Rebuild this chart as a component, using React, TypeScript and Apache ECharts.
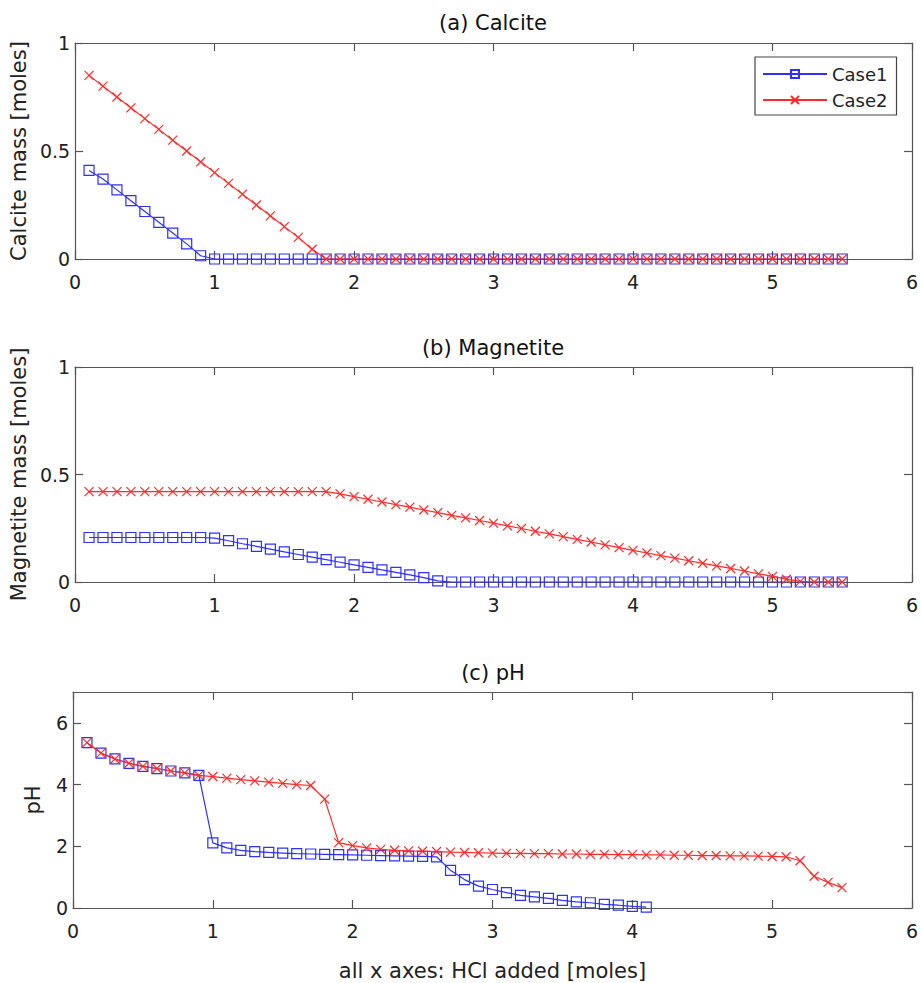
import React, { useEffect, useRef } from "react";
import * as echarts from "echarts";

const xs = [
  0.1, 0.2, 0.3, 0.4, 0.5, 0.6, 0.7, 0.8, 0.9, 1.0,
  1.1, 1.2, 1.3, 1.4, 1.5, 1.6, 1.7, 1.8, 1.9, 2.0,
  2.1, 2.2, 2.3, 2.4, 2.5, 2.6, 2.7, 2.8, 2.9, 3.0,
  3.1, 3.2, 3.3, 3.4, 3.5, 3.6, 3.7, 3.8, 3.9, 4.0,
  4.1, 4.2, 4.3, 4.4, 4.5, 4.6, 4.7, 4.8, 4.9, 5.0,
  5.1, 5.2, 5.3, 5.4, 5.5,
];

const calciteCase1 = [
  0.41, 0.37, 0.32, 0.27, 0.22, 0.17, 0.12, 0.07, 0.015, 0,
  0, 0, 0, 0, 0, 0, 0, 0, 0, 0,
  0, 0, 0, 0, 0, 0, 0, 0, 0, 0,
  0, 0, 0, 0, 0, 0, 0, 0, 0, 0,
  0, 0, 0, 0, 0, 0, 0, 0, 0, 0,
  0, 0, 0, 0, 0,
];
const calciteCase2 = [
  0.85, 0.8, 0.75, 0.7, 0.65, 0.6, 0.55, 0.5, 0.45, 0.4,
  0.35, 0.3, 0.25, 0.2, 0.15, 0.1, 0.045, 0, 0, 0,
  0, 0, 0, 0, 0, 0, 0, 0, 0, 0,
  0, 0, 0, 0, 0, 0, 0, 0, 0, 0,
  0, 0, 0, 0, 0, 0, 0, 0, 0, 0,
  0, 0, 0, 0, 0,
];

const magnetiteCase1 = [
  0.207, 0.207, 0.207, 0.207, 0.207, 0.207, 0.207, 0.207, 0.207, 0.204,
  0.192, 0.178, 0.166, 0.153, 0.14, 0.128, 0.116, 0.104, 0.092, 0.08,
  0.068, 0.056, 0.045, 0.033, 0.02, 0.005, 0, 0, 0, 0,
  0, 0, 0, 0, 0, 0, 0, 0, 0, 0,
  0, 0, 0, 0, 0, 0, 0, 0, 0, 0,
  0, 0, 0, 0, 0,
];
const magnetiteCase2 = [
  0.42, 0.42, 0.42, 0.42, 0.42, 0.42, 0.42, 0.42, 0.42, 0.42,
  0.42, 0.42, 0.42, 0.42, 0.42, 0.42, 0.42, 0.42, 0.41, 0.397,
  0.385, 0.372, 0.36, 0.348, 0.335, 0.323, 0.31, 0.298, 0.286, 0.274,
  0.261, 0.249, 0.236, 0.224, 0.211, 0.198, 0.186, 0.173, 0.16, 0.147,
  0.135, 0.123, 0.111, 0.099, 0.087, 0.075, 0.063, 0.051, 0.038, 0.026,
  0.013, 0.003, 0, 0, 0,
];

const phCase1 = [
  5.36, 5.02, 4.83, 4.69, 4.59, 4.52, 4.44, 4.38, 4.3, 2.11,
  1.95, 1.87, 1.83, 1.8, 1.78, 1.76, 1.75, 1.74, 1.73, 1.72,
  1.71, 1.7, 1.69, 1.68, 1.67, 1.66, 1.22, 0.92, 0.71, 0.6,
  0.5, 0.41, 0.36, 0.31, 0.25, 0.2, 0.17, 0.12, 0.09, 0.05,
  0.03,
];
const phCase2 = [
  5.36, 5.02, 4.83, 4.69, 4.59, 4.52, 4.44, 4.38, 4.3, 4.26,
  4.21, 4.16, 4.12, 4.08, 4.04, 4.0, 3.97, 3.53, 2.12, 2.02,
  1.95, 1.9, 1.87, 1.85, 1.84, 1.83, 1.81, 1.8, 1.79, 1.78,
  1.77, 1.77, 1.76, 1.76, 1.75, 1.75, 1.74, 1.74, 1.73, 1.73,
  1.72, 1.72, 1.71, 1.71, 1.7, 1.7, 1.69, 1.69, 1.68, 1.67,
  1.66, 1.53, 1.03, 0.83, 0.66,
];

const seriesNames = ["Case1", "Case2"];
const panelTitles = ["(a) Calcite", "(b) Magnetite", "(c) pH"];
const yNames = ["Calcite mass [moles]", "Magnetite mass [moles]", "pH"];
const xName = "all x axes: HCl added [moles]";
const xTicks = { min: 0, max: 6, interval: 1 };
const yTicksMass = { min: 0, max: 1, interval: 0.5 };
const yTicksPh = { min: 0, max: 7, interval: 2 };

const FONT = "DejaVu Sans";
const BLUE = "#2f2fff";
const RED = "#ff2a2a";
const AXIS = "#555555";
const TEXT = "#222222";
const CROSS = "path://M0,0L10,10M10,0L0,10";

const pairs = (vals: number[]) => vals.map((v, i) => [xs[i], v]);

export default function App() {
  const ref = useRef<HTMLDivElement>(null);
  useEffect(() => {
    if (!ref.current) return;
    const chart = echarts.init(ref.current, undefined, { renderer: "svg" });

    const gridTops = [43, 367, 692];
    const gridHeights = [216, 215, 216];
    const titleTops = [12, 337, 662];
    const nameGaps = [40, 40, 30];

    const grids = gridTops.map((t, i) => ({
      left: 73,
      width: 840,
      top: t,
      height: gridHeights[i],
      containLabel: false,
    }));

    const xAxes: any[] = [];
    const yAxes: any[] = [];
    for (let i = 0; i < 3; i++) {
      const base = {
        type: "value",
        gridIndex: i,
        ...xTicks,
        splitLine: { show: false },
        axisLine: { show: true, onZero: false, lineStyle: { color: AXIS, width: 1.2 } },
        axisTick: { show: true, inside: true, length: 8, lineStyle: { color: AXIS, width: 1.2 } },
      };
      xAxes.push({
        ...base,
        position: "bottom",
        axisLabel: { show: true, margin: 13, color: TEXT, fontFamily: FONT, fontSize: 19 },
        ...(i === 2
          ? {
              name: xName,
              nameLocation: "middle",
              nameGap: 52,
              nameTextStyle: { color: TEXT, fontFamily: FONT, fontSize: 21 },
            }
          : {}),
      });
      xAxes.push({ ...base, position: "top", axisLabel: { show: false } });

      const yt = i === 2 ? yTicksPh : yTicksMass;
      const ybase = {
        type: "value",
        gridIndex: i,
        ...yt,
        splitLine: { show: false },
        axisLine: { show: true, onZero: false, lineStyle: { color: AXIS, width: 1.2 } },
        axisTick: { show: true, inside: true, length: 8, lineStyle: { color: AXIS, width: 1.2 } },
      };
      yAxes.push({
        ...ybase,
        position: "left",
        name: yNames[i],
        nameLocation: "middle",
        nameGap: nameGaps[i],
        nameTextStyle: { color: TEXT, fontFamily: FONT, fontSize: 21 },
        axisLabel: {
          show: true,
          margin: 5,
          color: TEXT,
          fontFamily: FONT,
          fontSize: 19,
          showMaxLabel: i === 2 ? false : true,
        },
      });
      yAxes.push({ ...ybase, position: "right", axisLabel: { show: false } });
    }

    const data = [
      [calciteCase1, calciteCase2],
      [magnetiteCase1, magnetiteCase2],
      [phCase1, phCase2],
    ];

    const series: any[] = [];
    for (let i = 0; i < 3; i++) {
      series.push({
        name: seriesNames[0],
        type: "line",
        xAxisIndex: i * 2,
        yAxisIndex: i * 2,
        data: pairs(data[i][0]),
        symbol: "rect",
        symbolSize: 10,
        showAllSymbol: true,
        lineStyle: { color: BLUE, width: 1.2 },
        itemStyle: { color: "transparent", borderColor: BLUE, borderWidth: 1.2 },
        emphasis: { disabled: true },
        z: 2,
      });
      series.push({
        name: seriesNames[1],
        type: "line",
        xAxisIndex: i * 2,
        yAxisIndex: i * 2,
        data: pairs(data[i][1]),
        symbol: CROSS,
        symbolSize: 9,
        showAllSymbol: true,
        lineStyle: { color: RED, width: 1.2 },
        itemStyle: { color: RED, borderColor: RED, borderWidth: 1.2 },
        emphasis: { disabled: true },
        z: 3,
      });
    }

    chart.setOption({
      animation: false,
      backgroundColor: "#ffffff",
      title: panelTitles.map((t, i) => ({
        text: t,
        left: 493,
        top: titleTops[i],
        textAlign: "center",
        padding: 0,
        textStyle: { color: "#111111", fontFamily: FONT, fontSize: 21, fontWeight: "normal" },
      })),
      legend: {
        data: seriesNames,
        orient: "vertical",
        left: 755,
        top: 57,
        padding: [6, 9, 4, 7],
        itemWidth: 64,
        itemHeight: 10,
        itemGap: 4,
        borderColor: "#444444",
        borderWidth: 1.2,
        backgroundColor: "#ffffff",
        selectedMode: false,
        textStyle: { color: TEXT, fontFamily: FONT, fontSize: 18, lineHeight: 22 },
      },
      grid: grids,
      xAxis: xAxes,
      yAxis: yAxes,
      series,
    });

    return () => chart.dispose();
  }, []);

  return (
    <div
      ref={ref}
      style={{ position: "absolute", left: 0, top: 0, width: 921, height: 983 }}
    />
  );
}
